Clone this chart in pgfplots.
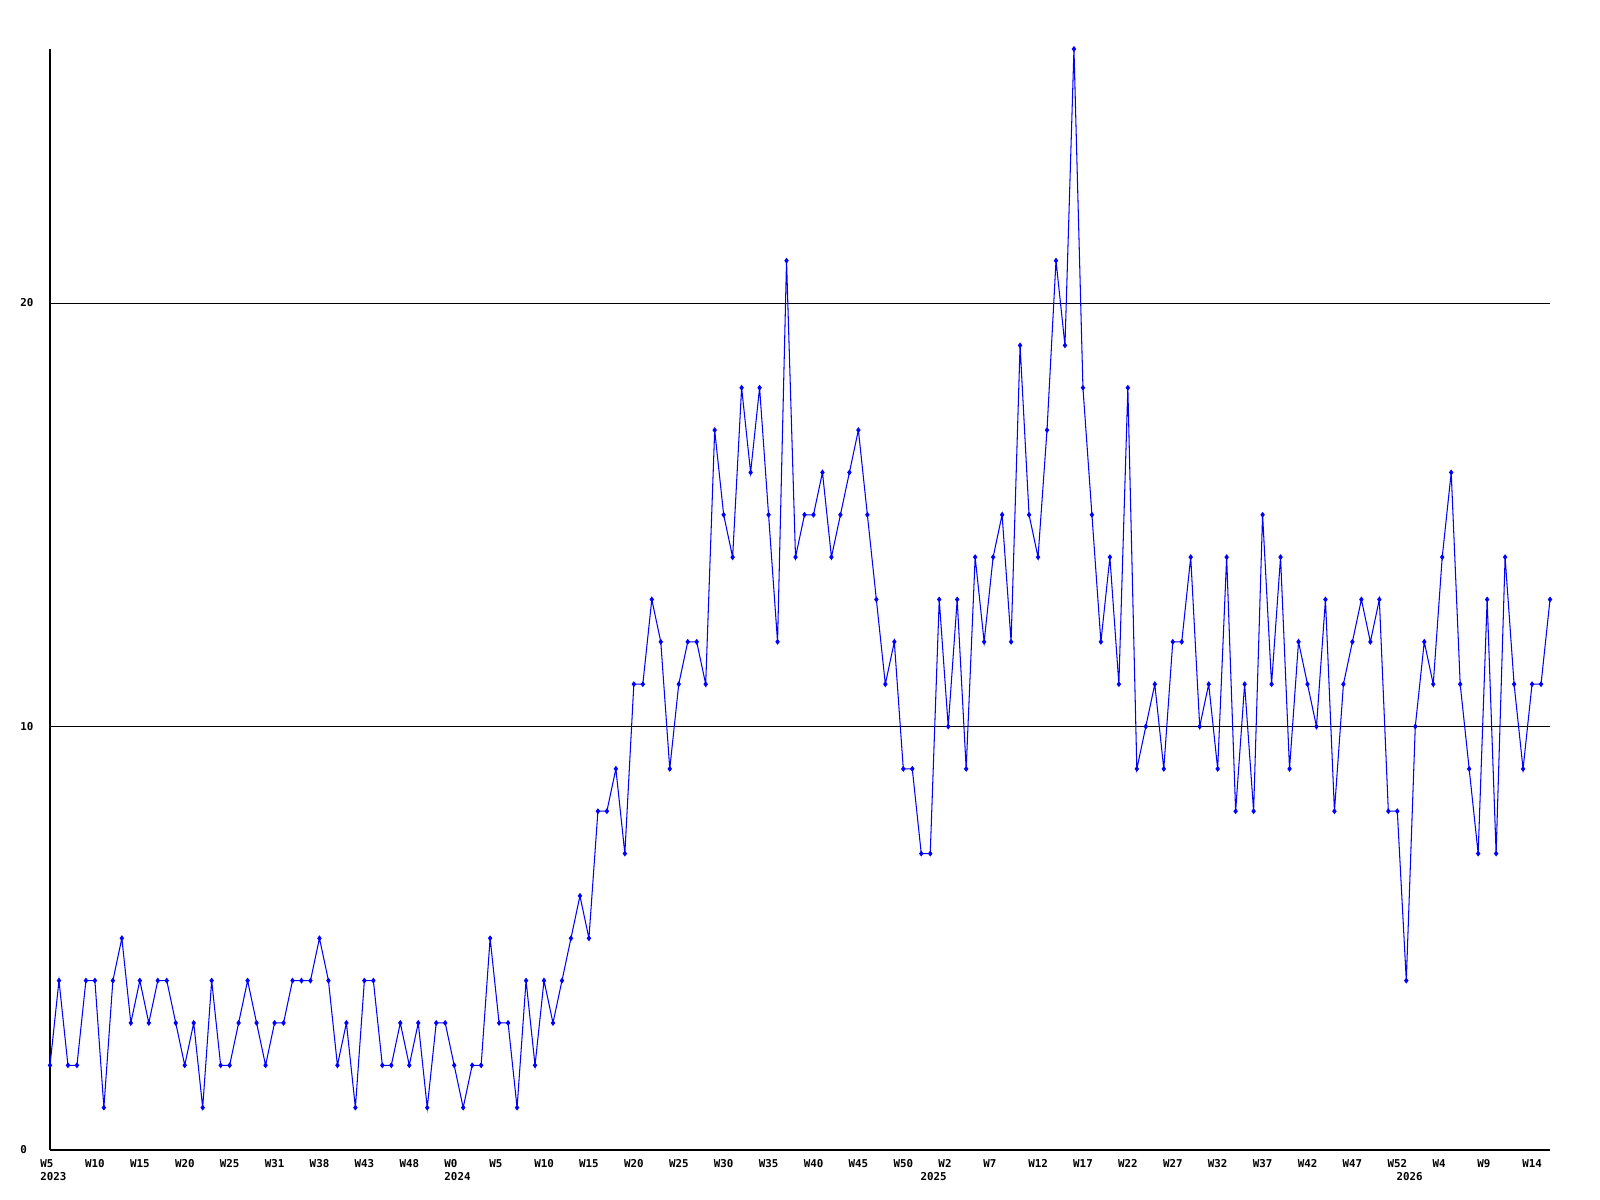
\documentclass[border=0pt]{standalone}
\usepackage{fontspec}
\setmonofont{DejaVu Sans Mono}
\usepackage{pgfplots}
\usepackage{pgfplotstable}
\pgfplotsset{compat=1.18}
\usetikzlibrary{calc}
\pgfplotstableread{
x y
0 2
1 4
2 2
3 2
4 4
5 4
6 1
7 4
8 5
9 3
10 4
11 3
12 4
13 4
14 3
15 2
16 3
17 1
18 4
19 2
20 2
21 3
22 4
23 3
24 2
25 3
26 3
27 4
28 4
29 4
30 5
31 4
32 2
33 3
34 1
35 4
36 4
37 2
38 2
39 3
40 2
41 3
42 1
43 3
44 3
45 2
46 1
47 2
48 2
49 5
50 3
51 3
52 1
53 4
54 2
55 4
56 3
57 4
58 5
59 6
60 5
61 8
62 8
63 9
64 7
65 11
66 11
67 13
68 12
69 9
70 11
71 12
72 12
73 11
74 17
75 15
76 14
77 18
78 16
79 18
80 15
81 12
82 21
83 14
84 15
85 15
86 16
87 14
88 15
89 16
90 17
91 15
92 13
93 11
94 12
95 9
96 9
97 7
98 7
99 13
100 10
101 13
102 9
103 14
104 12
105 14
106 15
107 12
108 19
109 15
110 14
111 17
112 21
113 19
114 26
115 18
116 15
117 12
118 14
119 11
120 18
121 9
122 10
123 11
124 9
125 12
126 12
127 14
128 10
129 11
130 9
131 14
132 8
133 11
134 8
135 15
136 11
137 14
138 9
139 12
140 11
141 10
142 13
143 8
144 11
145 12
146 13
147 12
148 13
149 8
150 8
151 4
152 10
153 12
154 11
155 14
156 16
157 11
158 9
159 7
160 13
161 7
162 14
163 11
164 9
165 11
166 11
167 13
}\datatable
\newcommand{\lblfont}{\ttfamily\bfseries\fontsize{7.7}{9}\selectfont}
\begin{document}
\begin{tikzpicture}
\begin{axis}[name=ax, scale only axis, width=37.5cm, height=27.525cm,
  at={(0,0)}, anchor=south west,
  xmin=0, xmax=167, ymin=0, ymax=26,
  axis x line*=bottom, axis y line*=left,
  axis line style={black, line width=0.75pt},
  xtick={0,5,...,165},
  xticklabels={W5,W10,W15,W20,W25,W31,W38,W43,W48,W0,W5,W10,W15,W20,W25,W30,W35,W40,W45,W50,W2,W7,W12,W17,W22,W27,W32,W37,W42,W47,W52,W4,W9,W14},
  ytick={0,10,20}, yticklabels={0,10,20},
  major tick length=0pt,
  ymajorgrids, grid style={black, line width=0.75pt},
  tick label style={font=\lblfont, inner sep=0pt},
  xticklabel style={anchor=north west, xshift=-0.25cm, yshift=-0.225cm},
  yticklabel style={anchor=west, xshift=-0.75cm},
  clip=false,
]
\addplot[color=blue, line width=0.75pt, mark=diamond*, mark size=1.5pt, mark options={solid, fill=blue}] table[x=x,y=y]{\datatable};
\node[anchor=north west, inner sep=0pt, font=\lblfont, xshift=-0.25cm, yshift=-0.55cm] at (axis cs:0,0) {2023};
\node[anchor=north west, inner sep=0pt, font=\lblfont, xshift=-0.25cm, yshift=-0.55cm] at (axis cs:45,0) {2024};
\node[anchor=north west, inner sep=0pt, font=\lblfont, xshift=-0.25cm, yshift=-0.55cm] at (axis cs:98,0) {2025};
\node[anchor=north west, inner sep=0pt, font=\lblfont, xshift=-0.25cm, yshift=-0.55cm] at (axis cs:151,0) {2026};
\end{axis}
\pgfresetboundingbox
\path[use as bounding box] ($(ax.south west)+(-1.25cm,-1.25cm)$) rectangle ($(ax.north east)+(1.25cm,1.225cm)$);
\end{tikzpicture}
\end{document}
